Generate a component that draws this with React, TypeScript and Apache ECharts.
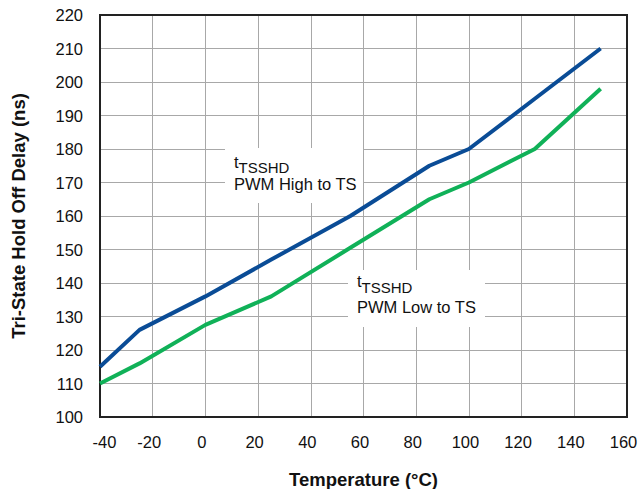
import React, { useEffect, useRef } from "react";
import * as echarts from "echarts";

const temperatures = [-40, -25, 0, 25, 55, 85, 100, 125, 150];
const highToTs = [115, 126, 136, 147, 160, 175, 180, 195, 210];
const lowToTs = [110, 116, 127.5, 136, 150.5, 165, 170, 180, 198];

const FONT = "'Liberation Sans', Arial, Helvetica, sans-serif";

function pairs(xs: number[], ys: number[]) {
  return xs.map((x, i) => [x, ys[i]]);
}

function annotation(boxX: number, boxY: number, boxW: number, boxH: number, tx: number, tMid: number, subMid: number, lineMid: number, label: string) {
  return {
    type: "group",
    children: [
      { type: "rect", shape: { x: boxX, y: boxY, width: boxW, height: boxH }, style: { fill: "#ffffff" }, z: 1 },
      { type: "text", x: tx, y: tMid, z: 5, style: { text: "t", fontSize: 16.5, fontFamily: FONT, fill: "#111", verticalAlign: "middle", align: "left" } },
      { type: "text", x: tx + 4.6, y: subMid, z: 5, style: { text: "TSSHD", fontSize: 15, fontFamily: FONT, fill: "#111", verticalAlign: "middle", align: "left" } },
      { type: "text", x: tx, y: lineMid, z: 5, style: { text: label, fontSize: 16.5, fontFamily: FONT, fill: "#111", verticalAlign: "middle", align: "left" } },
    ],
  };
}

export default function App() {
  const ref = useRef<HTMLDivElement>(null);
  useEffect(() => {
    if (!ref.current) return;
    const chart = echarts.init(ref.current, undefined, { renderer: "svg" });
    chart.setOption({
      animation: false,
      backgroundColor: "#ffffff",
      grid: {
        left: 100, right: 12, top: 15, bottom: 72,
        containLabel: false, outerBoundsMode: "none",
        show: true, borderColor: "#222", borderWidth: 2, z: 3,
      },
      xAxis: {
        type: "value",
        min: -40,
        max: 160,
        interval: 20,
        name: "Temperature (°C)",
        nameLocation: "middle",
        nameGap: 53,
        nameTextStyle: { fontSize: 18.5, fontWeight: "bold", fontFamily: FONT, color: "#111" },
        axisLine: { show: false },
        axisTick: { show: false },
        axisLabel: {
          fontSize: 16.5,
          fontFamily: FONT,
          color: "#111",
          margin: 16,
          padding: [0, 7, 0, 0],
          formatter: (v: number) => (v === -40 ? "{first|-40}" : String(v)),
          rich: { first: { fontSize: 16.5, fontFamily: FONT, color: "#111", padding: [0, 0, 0, 16] } },
        },
        splitLine: { show: true, lineStyle: { color: "#a8a8a8", width: 1 } },
      },
      yAxis: {
        type: "value",
        min: 100,
        max: 220,
        interval: 10,
        name: "Tri-State Hold Off Delay (ns)",
        nameLocation: "middle",
        nameGap: 72,
        nameTextStyle: { fontSize: 18.5, fontWeight: "bold", fontFamily: FONT, color: "#111" },
        axisLine: { show: false },
        axisTick: { show: false },
        axisLabel: { fontSize: 16.5, fontFamily: FONT, color: "#111", margin: 17 },
        splitLine: { show: true, lineStyle: { color: "#a8a8a8", width: 1 } },
      },
      graphic: [
        annotation(225, 148, 138, 55, 234, 161.5, 167, 184, "PWM High to TS"),
        annotation(348, 270, 137, 57, 357, 280.5, 287.5, 306.5, "PWM Low to TS"),
      ],
      series: [
        {
          name: "PWM High to TS",
          type: "line",
          data: pairs(temperatures, highToTs),
          showSymbol: false,
          symbol: "none",
          lineStyle: { color: "#0a4c96", width: 4 },
          z: 4,
        },
        {
          name: "PWM Low to TS",
          type: "line",
          data: pairs(temperatures, lowToTs),
          showSymbol: false,
          symbol: "none",
          lineStyle: { color: "#10b158", width: 4 },
          z: 4,
        },
      ],
    });
    return () => chart.dispose();
  }, []);
  return (
    <div
      ref={ref}
      style={{ position: "absolute", left: 0, top: 0, width: 639, height: 489, background: "#fff" }}
    />
  );
}
